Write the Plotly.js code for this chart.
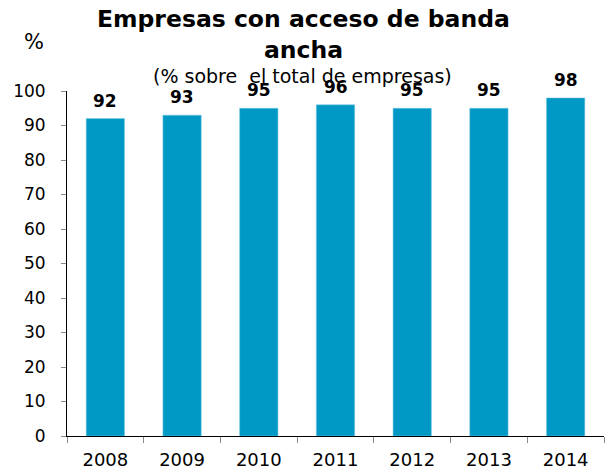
<!DOCTYPE html>
<html><head><meta charset="utf-8">
<script src="https://cdn.plot.ly/plotly-3.0.1.min.js"></script>
<style>html,body{margin:0;padding:0;background:#fff}#c{width:605px;height:471px}</style>
</head><body><div id="c"></div>
<script>
var years = ['2008','2009','2010','2011','2012','2013','2014'];
var values = [92, 93, 95, 96, 95, 95, 98];
var yTicks = [0,10,20,30,40,50,60,70,80,90,100];

var F = 'DejaVu Sans, Verdana, sans-serif';
var H = 345, BOT = 436, L = 67, W = 537;
function py(px){ return (BOT - px) / H; }
function pxx(px){ return (px - L) / W; }
var ann = years.map(function(y,i){
  return {x:i, y:values[i], xref:'x', yref:'y', text:'<b>'+values[i]+'</b>', showarrow:false,
    yanchor:'bottom', yshift:6, font:{family:F,size:17,color:'#000'}};
});
ann.push({xref:'paper', yref:'paper', x:pxx(303), y:py(34.5), yanchor:'middle', xanchor:'center',
  text:'<b>Empresas con acceso de banda<br>ancha</b>', showarrow:false, font:{family:F,size:23.5,color:'#000'}});
ann.push({xref:'paper', yref:'paper', x:pxx(302), y:py(76), yanchor:'middle', xanchor:'center',
  text:'(% sobre  el total de empresas)', showarrow:false, font:{family:F,size:19,color:'#000'}});
ann.push({xref:'paper', yref:'paper', x:pxx(22), y:py(42), yanchor:'middle', xanchor:'left',
  text:'%', showarrow:false, font:{family:F,size:21,color:'#000'}});

Plotly.newPlot('c', [{
  type:'bar', x:years, y:values, width:0.5,
  marker:{color:'#0099c6', line:{color:'#7fcbe3', width:0.5}}, hoverinfo:'none'
}], {
  width:605, height:471,
  margin:{l:L, r:1, t:91, b:35, pad:0},
  paper_bgcolor:'#fff', plot_bgcolor:'#fff',
  showlegend:false,
  xaxis:{type:'category', range:[-0.5,6.5], tickson:'boundaries', ticks:'outside', ticklen:6, tickcolor:'#888',
    showline:true, linecolor:'#000', linewidth:1, showgrid:false,
    tickfont:{family:F, size:18, color:'#000'}, ticklabelstandoff:7, fixedrange:true},
  yaxis:{range:[0,100], tickvals:yTicks, ticks:'outside', ticklen:5, tickcolor:'#888',
    showline:true, linecolor:'#000', linewidth:1, showgrid:false, zeroline:false,
    tickfont:{family:F, size:17, color:'#000'}, ticklabelstandoff:12, fixedrange:true},
  annotations:ann
}, {staticPlot:true});
</script></body></html>
